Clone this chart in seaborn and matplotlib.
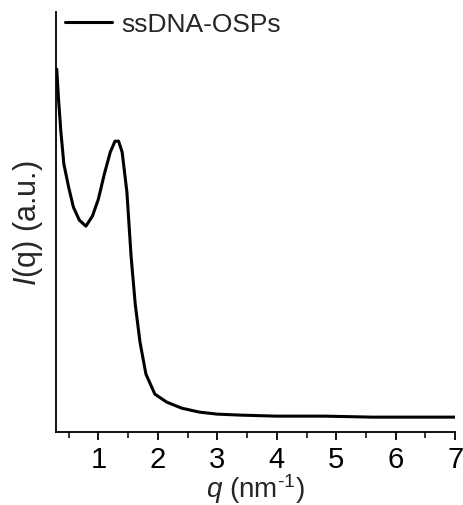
import seaborn as sns
import pandas as pd
import matplotlib.pyplot as plt

# SAXS curve (q in nm^-1, intensity in arbitrary units)
q = [0.30, 0.33, 0.37, 0.42, 0.50, 0.58, 0.68, 0.79, 0.90, 1.00, 1.10, 1.20,
     1.28, 1.34, 1.40, 1.48, 1.55, 1.62, 1.70, 1.80, 1.95, 2.15, 2.40, 2.70,
     3.00, 3.40, 4.00, 4.80, 5.60, 6.30, 7.00]
intensity = [363, 333, 300, 268, 245, 225, 212, 206, 216, 233, 258, 280,
             291, 291, 280, 240, 176, 128, 90, 58, 38, 30, 24, 20,
             18, 17, 16, 16, 15, 15, 15]
series = "ssDNA-OSPs"

df = pd.DataFrame({"q": q, "I": intensity})

sns.set_style("ticks")
plt.rcParams["font.family"] = ["Liberation Sans", "DejaVu Sans"]
plt.rcParams["mathtext.fontset"] = "custom"
plt.rcParams["mathtext.rm"] = "Liberation Sans"
plt.rcParams["mathtext.it"] = "Liberation Sans:italic"

fig = plt.figure(figsize=(4.64, 5.06), dpi=100)
ax = fig.add_axes([0.121, 0.144, 0.860, 0.830])
sns.lineplot(data=df, x="q", y="I", color="black", linewidth=2.2, label=series, ax=ax)

ax.set_xlim(0.29, 7)
ax.set_ylim(0, 420)
ax.set_xticks([1, 2, 3, 4, 5, 6, 7])
ax.set_xticks([0.5, 1.5, 2.5, 3.5, 4.5, 5.5, 6.5], minor=True)
ax.set_yticks([])
ax.tick_params(axis="x", which="major", direction="out", length=6, width=1.3,
               labelsize=21, pad=3, colors="black")
ax.tick_params(axis="x", which="minor", direction="out", length=4, width=1.3)
for s in ["top", "right"]:
    ax.spines[s].set_visible(False)
for s in ["left", "bottom"]:
    ax.spines[s].set_linewidth(1.3)
    ax.spines[s].set_color("black")

ax.set_xlabel(r"$q$ (nm$^{\mathregular{\text{-}1}}$)", fontsize=20, labelpad=-1)
ax.set_ylabel(r"$I$(q) (a.u.)", fontsize=22, labelpad=8)

leg = ax.legend(loc="upper left", frameon=False, fontsize=19, handlelength=1.8,
                borderpad=0, borderaxespad=0, bbox_to_anchor=(0.022, 1.0),
                handletextpad=0.35)

fig.savefig("out.png", dpi=100)
